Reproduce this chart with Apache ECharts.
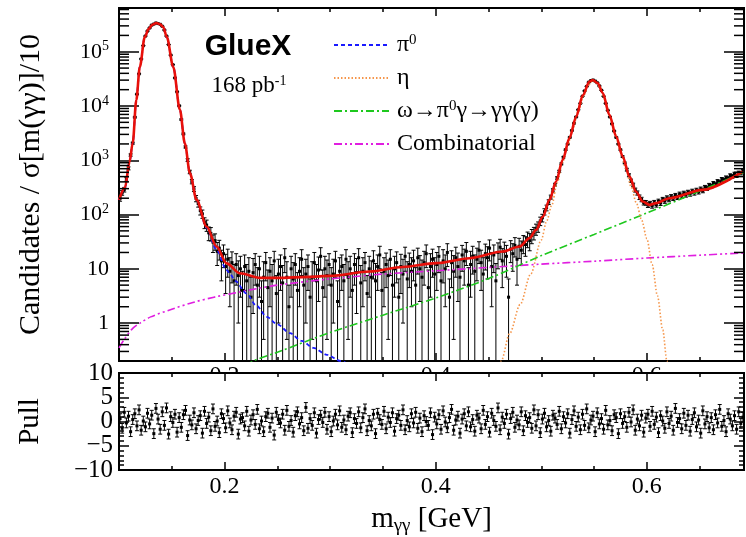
<!DOCTYPE html>
<html>
<head>
<meta charset="utf-8">
<script src="https://cdn.jsdelivr.net/npm/echarts@6/dist/echarts.min.js"></script>
<style>
    html, body { margin: 0; padding: 0; background: #fff; }
    #chart { width: 746px; height: 537px; }
</style>
</head>
<body>
<div id="chart"></div>
<script>
// axis ranges
var X_MIN = 0.1, X_MAX = 0.692;
var Y_MIN = 0.2, Y_MAX = 6.4e5;
var BIN_LO = 0.1, BIN_W = 0.002;
var PULL_ERR = 1;

// tick positions
var xMajorTicks = [0.2, 0.4, 0.6];
var xMinorTicks = [0.15, 0.25, 0.3, 0.35, 0.45, 0.5, 0.55, 0.65];
var pullMajorTicks = [-10, -5, 0, 5, 10];
var pullMinorTicks = [-9, -8, -7, -6, -4, -3, -2, -1, 1, 2, 3, 4, 6, 7, 8, 9];
// labels split over two axes so none is dropped as overlapping
var pullLabelsA = [-10, 0, 10];
var pullLabelsB = [-5, 5];

// measured candidates per bin (bin i centred at BIN_LO + (i+0.5)*BIN_W)
var dataVals = [
    198, 252, 288, 445, 710, 1250, 2070, 6200, 16500, 39100,
    73600, 129500, 194500, 240500, 274500, 309500, 323500, 339500, 330500, 320500,
    294500, 251500, 194500, 135500, 86700, 57800, 32900, 18300, 10100, 5640,
    3060, 1760, 1010, 610, 405, 296, 198, 160, 118, 103,
    71, 64, 46, 45, 31, 33, 21, 24, 14, 19,
    11, 15, 9, 13, 6, 12, 7.5, 10, 4, 11,
    6, 9, 3, 8.5, 12, 5, 10, 2.5, 7, 13,
    4.5, 9, 6, 14, 3.5, 8, 11, 5.5, 16, 7,
    2, 10, 6.5, 12, 4, 9, 15, 5, 8, 11,
    3, 7, 13, 6, 9.5, 17, 4.5, 10, 7.5, 12,
    5, 8, 14, 2.5, 9, 11, 6, 15, 7, 10,
    4, 12, 8.5, 16, 5.5, 9, 13, 3.5, 10, 7,
    14, 6, 11, 18, 4, 9, 12, 7.5, 15, 5,
    10, 13, 3, 11, 8, 17, 6.5, 12, 9, 14,
    5, 16, 10, 7, 13, 19, 4.5, 11, 15, 8,
    12, 17, 6, 14, 10, 20, 3, 13, 9, 16,
    11, 7, 18, 14, 21, 5, 12, 17, 9, 15,
    22, 13, 8, 19, 16, 24, 11, 18, 6, 20,
    25, 14, 21, 17, 3, 23, 19, 27, 15, 26,
    22, 30, 28, 36, 33, 41, 46, 54, 60, 76,
    87, 113, 133, 170, 210, 279, 355, 472, 626, 858,
    1140, 1560, 1990, 2640, 3540, 4800, 6290, 8530, 11180, 15130,
    18970, 22940, 27460, 29540, 30170, 28840, 26860, 23440, 19470, 15130,
    11190, 8320, 6290, 4690, 3460, 2640, 1990, 1560, 1170, 895,
    672, 530, 420, 352, 283, 250, 209, 190, 166, 165,
    150, 160, 145, 166, 152, 176, 163, 190, 178, 203,
    190, 214, 200, 225, 208, 238, 219, 247, 230, 258,
    240, 270, 251, 281, 262, 296, 276, 318, 305, 347,
    333, 375, 357, 408, 390, 446, 430, 478, 462, 525,
    505, 562, 520, 588, 580, 630
];
var dataErrs = [
    22, 25, 28, 35, 45, 60, 80, 140, 230, 350,
    480, 640, 780, 870, 930, 990, 1010, 1040, 1030, 1010,
    970, 900, 790, 660, 530, 430, 330, 240, 180, 135,
    100, 75, 58, 45, 37, 31, 26, 23, 20, 18,
    16, 15, 13, 12.5, 11, 11, 9.5, 9.5, 8, 8.5,
    7.5, 8, 7, 7.5, 6, 7, 6.5, 7, 5, 7,
    6, 7, 4, 7, 7, 5.5, 7, 3.5, 6.5, 7,
    5, 7, 6, 7, 4, 7, 7, 6, 7.5, 6.5,
    3, 7, 6.5, 7, 4.5, 7, 7.5, 5.5, 7, 7,
    3.5, 6.5, 7, 6, 7, 7.5, 5, 7, 7, 7,
    5.5, 7, 7, 3.5, 7, 7, 6, 7.5, 6.5, 7,
    4.5, 7, 7, 7.5, 6, 7, 7, 4, 7, 7,
    7.5, 6.5, 7, 8, 4.5, 7, 7.5, 7, 7.5, 5.5,
    7, 7.5, 3.5, 7.5, 7, 8, 7, 7.5, 7, 8,
    5.5, 8, 7.5, 7.5, 8, 8.5, 5, 8, 8, 8,
    8, 8.5, 6.5, 8.5, 8, 9, 3.5, 8.5, 8.5, 9,
    8.5, 7.5, 9, 9, 9.5, 5.5, 9, 9, 9, 9,
    9.5, 9, 8, 9.5, 9.5, 10, 9, 9.5, 6.5, 10,
    10, 9.5, 10, 10, 3.5, 10, 10, 10.5, 10, 10.5,
    10.5, 11, 11, 11.5, 11.5, 12, 12, 12.5, 13, 13.5,
    14, 15, 16, 17, 18, 20, 22, 25, 28, 32,
    37, 43, 48, 55, 62, 72, 82, 95, 108, 125,
    140, 152, 165, 172, 174, 170, 163, 152, 140, 123,
    106, 91, 80, 68, 58, 51, 45, 40, 34, 30,
    40, 34, 30, 27, 24, 22, 20, 18, 16, 16,
    15, 15, 14, 16, 15, 16, 16, 17, 17, 18,
    18, 19, 18, 20, 19, 21, 20, 22, 21, 22,
    22, 23, 23, 24, 23, 25, 24, 26, 26, 28,
    28, 30, 29, 32, 31, 34, 33, 36, 35, 38,
    38, 40, 38, 42, 42, 44
];
var pullVals = [
    0.6, -1.4, 1.9, -0.3, 1.1, -2.1, 0.4, 1.6, -0.9, 2.4,
    -1.8, 0.1, -1.1, 1.7, -0.5, 1.3, -2.5, 2.7, 0.5, -1.6,
    2.0, -0.8, 2.8, -2.6, 1.0, -0.2, 1.5, -2.2, 0.8, -1.2,
    1.4, 2.3, -2.9, 0.3, -0.7, 1.8, -1.5, 0.2, 1.2, -2.4,
    2.1, -0.4, 0.9, -1.9, 2.6, -1.0, 0.1, -2.3, 1.6, 0.6,
    -1.3, 2.2, -0.3, -1.7, 1.1, 1.9, -2.6, 0.5, 0.8, -0.9,
    2.1, -2.0, 0.3, 1.4, -0.6, 2.5, -1.5, 0.1, -2.1, 1.0,
    1.7, -1.2, 0.7, -2.8, 1.9, 0.4, -0.3, 1.5, -1.8, 2.3,
    -1.0, 0.2, -2.2, 1.2, 2.0, -0.5, 0.8, -1.9, 2.9, -1.4,
    0.6, -0.8, 1.8, -2.4, 0.4, 1.3, -0.2, 1.9, -1.6, 1.0,
    -2.1, 0.1, 1.5, -0.7, 2.2, -1.2, 0.3, -1.7, 1.1, 1.8,
    -2.3, 0.6, -0.4, 2.0, -1.3, 0.8, 2.6, -1.9, 0.2, -0.9,
    1.5, -2.5, 1.7, 0.4, -0.6, 2.1, -1.5, 0.9, -0.2, 1.8,
    -2.0, 0.6, 1.3, -0.8, 2.4, -1.7, 0.2, -1.1, 1.6, -0.3,
    1.9, -1.4, 0.7, -2.1, 1.2, 0.0, -0.8, 1.8, -2.7, 0.9,
    -0.5, 1.4, -1.6, 2.2, -0.1, -1.3, 0.8, 2.5, -1.8, 0.3,
    1.1, -2.4, 0.5, 1.6, -0.9, 2.0, -1.1, 0.4, -2.0, 1.3,
    0.7, -1.5, 2.3, -0.6, 1.0, -2.2, 1.7, 0.2, -1.0, 2.8,
    -1.7, 0.9, -0.4, 1.5, -2.6, 0.6, 1.9, -1.2, 0.3, -0.7,
    2.0, -1.9, 1.2, -0.2, 0.8, -1.4, 2.4, -0.9, 1.4, -2.3,
    0.5, 1.7, -1.1, 0.2, -2.0, 1.3, 0.7, -0.6, 2.1, -1.5,
    1.0, -0.3, 1.6, -2.4, 0.4, 2.2, -1.0, 0.9, -1.7, 1.5,
    -0.8, 2.6, -1.3, 0.3, 1.1, -2.1, 1.8, -0.5, 0.6, -1.6,
    2.3, -0.7, 0.2, -1.9, 1.4, 0.8, -2.5, 1.6, -0.4, 1.0,
    -1.2, 1.9, -0.1, 2.4, -1.8, 0.5, -0.9, 1.3, -2.2, 0.7,
    1.5, -1.0, 2.1, -0.6, 0.9, -2.3, 1.2, 0.1, -1.4, 2.0,
    -0.4, 1.1, -1.8, 2.7, -0.2, 0.6, -1.5, 1.7, -0.8, 1.3,
    -2.0, 0.4, 1.8, -1.1, 0.3, -2.4, 2.2, -0.5, 1.0, -1.3,
    0.8, -1.7, 1.4, -0.3, 2.5, -1.0, 0.2, -2.1, 1.6, 0.5,
    -0.9, 1.2, -1.6, 2.0, -0.4, 0.9
];

// fit and its components, [m, value]
var fitCurve = [
    [0.100, 186], [0.1057, 316], [0.110, 940], [0.113, 2090], [0.1164, 12900],
    [0.1197, 52500], [0.1244, 186000], [0.128, 263000], [0.1315, 315000], [0.1353, 339000],
    [0.139, 320000], [0.142, 282000], [0.1453, 186000], [0.1514, 52500], [0.1577, 8500],
    [0.1624, 2040], [0.1672, 575], [0.1735, 186], [0.183, 60], [0.1924, 25.7],
    [0.2019, 12.6], [0.2145, 8.3], [0.2334, 6.8], [0.25, 6.8], [0.28, 7.1],
    [0.30, 7.4], [0.3375, 8.9], [0.369, 10.8], [0.4006, 12.7], [0.432, 15.7],
    [0.4636, 20.9], [0.4794, 25.7], [0.4888, 36.7], [0.4952, 52.5], [0.5014, 91],
    [0.5078, 186], [0.514, 407], [0.5203, 1023], [0.5267, 2570], [0.533, 6300],
    [0.5393, 15800], [0.5456, 28200], [0.5487, 30200], [0.5535, 26300], [0.5582, 17400],
    [0.5645, 6900], [0.5709, 2750], [0.5771, 1175], [0.5835, 500], [0.5898, 263],
    [0.596, 174], [0.6024, 151], [0.6087, 162], [0.6213, 200], [0.6528, 285],
    [0.6906, 617]
];
var pi0Curve = [
    [0.100, 185], [0.1057, 315], [0.110, 938], [0.113, 2088], [0.1164, 12899],
    [0.1197, 52499], [0.1244, 186000], [0.128, 263000], [0.1315, 315000], [0.1353, 339000],
    [0.139, 320000], [0.142, 282000], [0.1453, 186000], [0.1514, 52500], [0.1577, 8498],
    [0.1624, 2038], [0.1672, 573], [0.1735, 184], [0.183, 57], [0.1924, 22.5],
    [0.2019, 9.5], [0.205, 8.2], [0.21, 6.0], [0.2208, 3.5], [0.23, 2.1],
    [0.24, 1.3], [0.25, 0.95], [0.262, 0.65], [0.273, 0.47], [0.284, 0.35],
    [0.297, 0.26], [0.31, 0.2], [0.32, 0.16]
];
var etaCurve = [
    [0.458, 0.15], [0.462, 0.2], [0.47, 0.64], [0.48, 2.2], [0.49, 8],
    [0.50, 34], [0.505, 75], [0.51, 150], [0.515, 380], [0.52, 900],
    [0.525, 1900], [0.53, 4000], [0.535, 8000], [0.54, 15500], [0.545, 24500],
    [0.5487, 29500], [0.552, 27500], [0.556, 21500], [0.56, 13500], [0.565, 6500],
    [0.57, 3000], [0.575, 1500], [0.58, 700], [0.585, 330], [0.59, 165],
    [0.595, 80], [0.60, 36], [0.605, 12], [0.61, 3.2], [0.615, 0.75],
    [0.619, 0.2], [0.621, 0.12]
];
var omegaCurve = [
    [0.22, 0.16], [0.227, 0.2], [0.25, 0.29], [0.30, 0.67], [0.35, 1.4],
    [0.40, 2.9], [0.45, 6.6], [0.50, 17.5], [0.55, 43], [0.60, 107],
    [0.65, 270], [0.692, 600]
];
var combCurve = [
    [0.100, 0.35], [0.105, 0.5], [0.113, 0.8], [0.12, 1.0], [0.13, 1.3],
    [0.15, 1.8], [0.17, 2.4], [0.19, 3.0], [0.21, 3.6], [0.23, 4.3],
    [0.25, 5.0], [0.28, 5.9], [0.31, 6.8], [0.35, 8.0], [0.40, 9.2],
    [0.45, 10.6], [0.50, 12.2], [0.55, 13.8], [0.60, 15.8], [0.65, 17.8],
    [0.692, 19.6]
];

var SERIF = '"Liberation Serif", "DejaVu Serif", serif';
var BOTTOM_Z = 60;

var binCenters = dataVals.map(function (v, i) {
    return +(BIN_LO + (i + 0.5) * BIN_W).toFixed(4);
});
var histData = dataVals.map(function (v, i) {
    return [binCenters[i], v, dataErrs[i]];
});
var pullData = pullVals.map(function (p, i) {
    return [binCenters[i], p, PULL_ERR];
});

// log minor ticks 2..9 x 10^k
var minorLogTicks = [];
for (var k = -1; k <= 5; k++) {
    for (var d = 2; d <= 9; d++) {
        var t = d * Math.pow(10, k);
        if (t > Y_MIN && t < Y_MAX) {
            minorLogTicks.push([X_MIN, t]);
        }
    }
}

function errorBarItem(yLo, yHi) {
    return function (params, api) {
        var x = api.value(0), v = api.value(1), e = api.value(2);
        var c = api.coord([x, v]);
        var top = api.coord([x, Math.min(v + e, yHi)]);
        var bot = api.coord([x, Math.max(v - e, yLo)]);
        var st = { stroke: '#000', lineWidth: 1 };
        var kids = [
            { type: 'line', shape: { x1: c[0], y1: top[1], x2: c[0], y2: bot[1] }, style: st },
            { type: 'line', shape: { x1: c[0] - 2, y1: top[1], x2: c[0] + 2, y2: top[1] }, style: st },
            { type: 'rect', shape: { x: c[0] - 1.5, y: c[1] - 1.5, width: 3, height: 3 }, style: { fill: '#000' } }
        ];
        if (v - e > yLo) {
            kids.push({ type: 'line', shape: { x1: c[0] - 2, y1: bot[1], x2: c[0] + 2, y2: bot[1] }, style: st });
        }
        return { type: 'group', children: kids };
    };
}

function logLabel(v) {
    var e = Math.round(Math.log(v) / Math.LN10);
    if (Math.abs(v - Math.pow(10, e)) > 1e-6 * v) {
        return '';
    }
    if (e === 0) return '1';
    if (e === 1) return '10';
    return '{b|10}{s|' + e + '}';
}

var axisLine = { show: true, onZero: false, lineStyle: { color: '#000', width: 2 } };

// one x axis carrying either major or minor ticks, optionally labels
function xAxisOf(gridIndex, position, ticks, len, label, extra) {
    var ax = {
        type: 'value', gridIndex: gridIndex, position: position,
        min: X_MIN, max: X_MAX,
        axisLine: axisLine,
        axisTick: { show: true, inside: true, length: len, customValues: ticks, lineStyle: { color: '#000', width: 1.5 } },
        splitLine: { show: false },
        axisLabel: label ? {
            show: true, color: '#000', fontFamily: SERIF, fontSize: 24, margin: label.margin,
            customValues: xMajorTicks,
            formatter: function (v) { return v.toFixed(1); }
        } : { show: false }
    };
    for (var key in extra) ax[key] = extra[key];
    return ax;
}

function pullAxisOf(position, ticks, len, labelValues, extra) {
    var ax = {
        type: 'value', gridIndex: 1, position: position, z: BOTTOM_Z,
        min: -10, max: 10,
        axisLine: axisLine,
        axisTick: { show: true, inside: true, length: len, customValues: ticks, lineStyle: { color: '#000', width: 1.5 } },
        splitLine: { show: false },
        axisLabel: labelValues ? {
            show: true, color: '#000', fontFamily: SERIF, fontSize: 25, margin: 6,
            customValues: labelValues, showMinLabel: true, showMaxLabel: true,
            formatter: function (v) { return v < 0 ? '\u2212' + Math.abs(v) : String(v); }
        } : { show: false }
    };
    for (var key in extra) ax[key] = extra[key];
    return ax;
}

var legendText = {
    'π0': '{t|π}{s|0}',
    'η': '{t|η}',
    'ω→π0γ→γγ(γ)': '{t|ω→π}{s|0}{t|γ→γγ(γ)}',
    'Combinatorial': '{t|Combinatorial}'
};

var chart = echarts.init(document.getElementById('chart'));
chart.setOption({
    animation: false,
    backgroundColor: '#fff',
    grid: [
        { left: 119, top: 8, width: 625, height: 353 },
        { left: 119, top: 373, width: 625, height: 97 }
    ],
    legend: {
        orient: 'vertical', left: 328, top: 28,
        itemWidth: 55, itemHeight: 14, itemGap: 9,
        data: ['π0', 'η', 'ω→π0γ→γγ(γ)', 'Combinatorial'],
        itemStyle: { opacity: 0 },
        formatter: function (name) { return legendText[name]; },
        textStyle: {
            color: '#000', fontFamily: SERIF, fontSize: 24, lineHeight: 24, padding: [0, 0, 0, 3],
            rich: {
                t: { fontFamily: SERIF, fontSize: 24, lineHeight: 24, color: '#000' },
                s: { fontFamily: SERIF, fontSize: 15, lineHeight: 15, verticalAlign: 'top', color: '#000' }
            }
        }
    },
    graphic: [
        {
            // lower pad sits over the upper pad's tick labels
            type: 'rect', z: BOTTOM_Z - 10, silent: true,
            shape: { x: 100, y: 372, width: 646, height: 100 },
            style: { fill: '#fff' }
        },
        {
            type: 'text', x: 248, y: 47,
            style: { text: 'GlueX', fill: '#000', fontFamily: '"Liberation Sans", Arial, sans-serif', fontWeight: 'bold', fontSize: 30, align: 'center', verticalAlign: 'middle' }
        },
        {
            type: 'text', x: 249, y: 86,
            style: {
                text: '168 pb{s|-1}', fill: '#000', fontFamily: SERIF, fontSize: 23, align: 'center', verticalAlign: 'middle',
                rich: { s: { fontFamily: SERIF, fontSize: 14, lineHeight: 14, verticalAlign: 'top', fill: '#000' } }
            }
        }
    ],
    xAxis: [
        xAxisOf(0, 'bottom', xMajorTicks, 8, { margin: 3 }, {}),
        xAxisOf(0, 'bottom', xMinorTicks, 4, null, {}),
        xAxisOf(0, 'top', xMajorTicks, 8, null, {}),
        xAxisOf(0, 'top', xMinorTicks, 4, null, {}),
        xAxisOf(1, 'bottom', xMajorTicks, 8, { margin: 5 }, {
            z: BOTTOM_Z,
            name: 'm{s|γγ} [GeV]', nameLocation: 'middle', nameGap: 32,
            nameTextStyle: {
                color: '#000', fontFamily: SERIF, fontSize: 29, lineHeight: 34,
                rich: { s: { fontFamily: SERIF, fontSize: 19, lineHeight: 19, verticalAlign: 'bottom', color: '#000' } }
            }
        }),
        xAxisOf(1, 'bottom', xMinorTicks, 4, null, { z: BOTTOM_Z }),
        xAxisOf(1, 'top', xMajorTicks, 8, null, { z: BOTTOM_Z }),
        xAxisOf(1, 'top', xMinorTicks, 4, null, { z: BOTTOM_Z })
    ],
    yAxis: [
        {
            type: 'log', logBase: 10, gridIndex: 0, position: 'left',
            min: Y_MIN, max: Y_MAX,
            axisLine: axisLine,
            axisTick: { show: true, inside: true, length: 20, lineStyle: { color: '#000', width: 1.5 } },
            splitLine: { show: false },
            axisLabel: {
                color: '#000', fontFamily: SERIF, fontSize: 22, margin: 10,
                formatter: logLabel,
                rich: {
                    b: { fontFamily: SERIF, fontSize: 22, lineHeight: 24, color: '#000' },
                    s: { fontFamily: SERIF, fontSize: 14, lineHeight: 14, verticalAlign: 'top', color: '#000' }
                }
            },
            name: 'Candidates / σ[m(γγ)]/10', nameLocation: 'middle', nameGap: 73,
            nameTextStyle: { color: '#000', fontFamily: SERIF, fontSize: 30 }
        },
        {
            type: 'log', logBase: 10, gridIndex: 0, position: 'right',
            min: Y_MIN, max: Y_MAX,
            axisLine: axisLine,
            axisTick: { show: true, inside: true, length: 20, lineStyle: { color: '#000', width: 1.5 } },
            splitLine: { show: false },
            axisLabel: { show: false }
        },
        pullAxisOf('left', pullMajorTicks, 10, pullLabelsA, {
            name: 'Pull', nameLocation: 'middle', nameGap: 74,
            nameTextStyle: { color: '#000', fontFamily: SERIF, fontSize: 29 }
        }),
        pullAxisOf('left', pullMinorTicks, 5, pullLabelsB, {}),
        pullAxisOf('right', pullMajorTicks, 10, null, {}),
        pullAxisOf('right', pullMinorTicks, 5, null, {})
    ],
    series: [
        {
            type: 'custom', name: 'minorTicks', xAxisIndex: 0, yAxisIndex: 0, z: 5,
            data: minorLogTicks,
            renderItem: function (params, api) {
                var l = api.coord([X_MIN, api.value(1)]);
                var r = api.coord([X_MAX, api.value(1)]);
                var st = { stroke: '#000', lineWidth: 1.5 };
                return {
                    type: 'group', children: [
                        { type: 'line', shape: { x1: l[0], y1: l[1], x2: l[0] + 10, y2: l[1] }, style: st },
                        { type: 'line', shape: { x1: r[0] - 10, y1: r[1], x2: r[0], y2: r[1] }, style: st }
                    ]
                };
            }
        },
        {
            type: 'custom', name: 'data', xAxisIndex: 0, yAxisIndex: 0, z: 2,
            data: histData,
            renderItem: errorBarItem(Y_MIN, Y_MAX)
        },
        {
            type: 'line', name: 'Combinatorial', xAxisIndex: 0, yAxisIndex: 0, z: 3,
            data: combCurve, symbol: 'none', smooth: 0.3,
            lineStyle: { color: '#e01ee0', width: 1.6, type: [8, 3, 2, 3, 2, 3] }
        },
        {
            type: 'line', name: 'ω→π0γ→γγ(γ)', xAxisIndex: 0, yAxisIndex: 0, z: 3,
            data: omegaCurve, symbol: 'none', smooth: 0.3,
            lineStyle: { color: '#1ec81e', width: 1.6, type: [8, 3, 2, 3] }
        },
        {
            type: 'line', name: 'η', xAxisIndex: 0, yAxisIndex: 0, z: 3,
            data: etaCurve, symbol: 'none', smooth: 0.3, smoothMonotone: 'x',
            lineStyle: { color: '#f5964b', width: 1.6, type: [1.5, 2] }
        },
        {
            type: 'line', name: 'π0', xAxisIndex: 0, yAxisIndex: 0, z: 3,
            data: pi0Curve, symbol: 'none', smooth: 0.3, smoothMonotone: 'x',
            lineStyle: { color: '#1a1aff', width: 1.8, type: [4, 3] }
        },
        {
            type: 'line', name: 'fit', xAxisIndex: 0, yAxisIndex: 0, z: 4,
            data: fitCurve, symbol: 'none', smooth: 0.3, smoothMonotone: 'x',
            lineStyle: { color: '#e8100a', width: 2.6 }
        },
        {
            type: 'custom', name: 'pull', xAxisIndex: 4, yAxisIndex: 2, z: BOTTOM_Z,
            data: pullData,
            renderItem: errorBarItem(-10, 10)
        }
    ]
});
</script>
</body>
</html>
